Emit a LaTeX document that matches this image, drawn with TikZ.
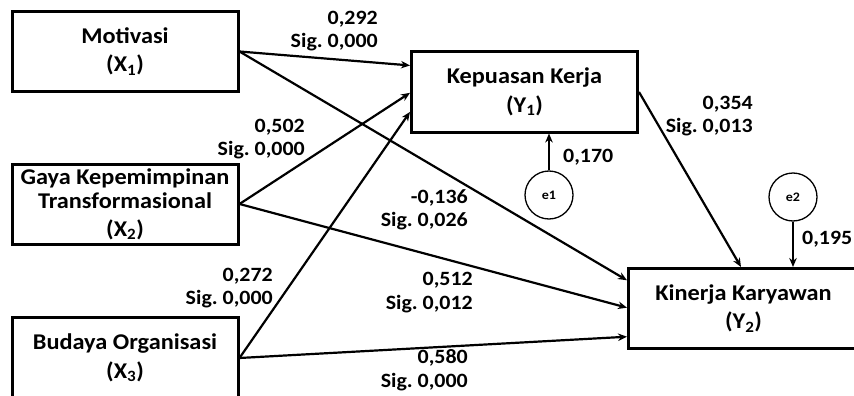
\documentclass[tikz,border=0pt]{standalone}
\usepackage{fontspec}
\setmainfont{Carlito}[FakeStretch=1.08]
\usetikzlibrary{arrows.meta,calc}
\begin{document}
\frenchspacing
\begin{tikzpicture}[x=1pt,y=-1pt,
  box/.style={draw, line width=3pt, minimum width=226pt, minimum height=80pt, align=center, inner sep=0pt,
    font=\bfseries\fontsize{22.5}{28.5}\selectfont},
  arr/.style={-{Stealth[length=9pt,width=7.5pt]}, line width=2.2pt},
  lab/.style={align=right, inner sep=0pt, font=\bfseries\fontsize{20.3}{23.5}\selectfont},
  err/.style={draw, circle, line width=1.3pt, minimum size=48pt, inner sep=0pt, font=\bfseries\fontsize{13}{15}\selectfont}
]
\useasboundingbox (0,0) rectangle (854,396);
\clip (0,0) rectangle (854,396);

\node[box] (mot) at (125,51.5) {Motivasi\\(X\textsubscript{1})};
\node[box] (gaya) at (125,204) {\raisebox{-2pt}{Gaya Kepemimpinan}\\[-2pt]Transformasional\\[-1pt](X\textsubscript{2})};
\node[box, minimum height=82pt] (bud) at (125,358) {Budaya Organisasi\\(X\textsubscript{3})};
\node[box] (kep) at (524.5,92) {Kepuasan Kerja\\(Y\textsubscript{1})};
\node[box, minimum width=240pt, anchor=west] (kin) at (627,308.5) {\hspace*{-10pt}Kinerja Karyawan\\\hspace*{-10pt}(Y\textsubscript{2})};
\node[err] (e1) at (549,195) {e1};
\node[err] (e2) at (793,197) {e2};

\draw[arr] (mot.east) -- ($(kep.north west)!0.18!(kep.south west)$);
\draw[arr] (mot.east) -- ($(kin.north west)!0.16!(kin.south west)$);
\draw[arr] (gaya.east) -- ($(kep.north west)!0.51!(kep.south west)$);
\draw[arr] (gaya.east) -- ($(kin.north west)!0.49!(kin.south west)$);
\draw[arr] (bud.east) -- ($(kep.north west)!0.74!(kep.south west)$);
\draw[arr] (bud.east) -- ($(kin.north west)!0.84!(kin.south west)$);
\draw[arr] (kep.east) -- (kin.north -| 741,0);
\draw[arr] (e1) -- (kep.south -| e1);
\draw[arr] (e2) -- (kin.north -| e2);

\node[lab, anchor=east] (l1) at (378,31) {0,292\\Sig. 0,000};
\node[lab, anchor=east] (l2) at (305,139) {0,502\\Sig. 0,000};
\node[lab, anchor=east] (l3) at (753,116) {0,354\\Sig. 0,013};
\node[lab, anchor=west] (l4) at (563,157) {0,170};
\node[lab, anchor=east] (l5) at (468,210) {-0,136\\Sig. 0,026};
\node[lab, anchor=east] (l6) at (473,292.5) {0,512\\Sig. 0,012};
\node[lab, anchor=east] (l7) at (468,370) {0,580\\Sig. 0,000};
\node[lab, anchor=east] (l8) at (273,288) {0,272\\Sig. 0,000};
\node[lab, anchor=east] (l9) at (852.5,239) {0,195};
\end{tikzpicture}
\end{document}
